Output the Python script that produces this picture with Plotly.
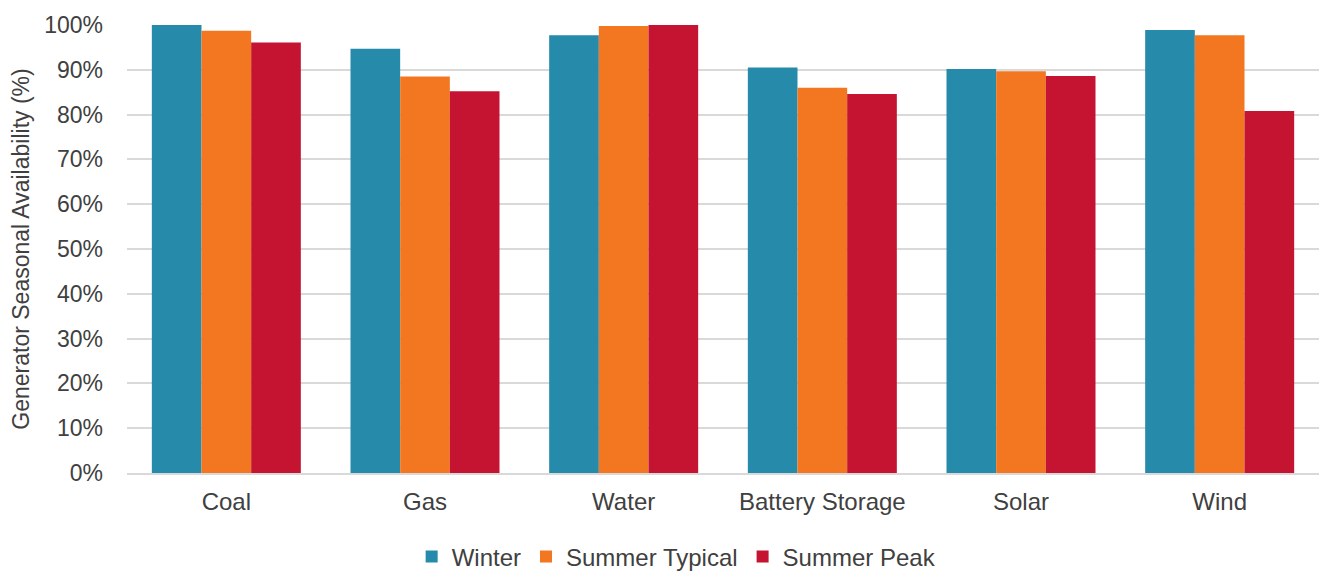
import plotly.graph_objects as go

categories = ["Coal", "Gas", "Water", "Battery Storage", "Solar", "Wind"]
winter = [100.0, 94.7, 97.7, 90.5, 90.2, 98.9]
summer_typical = [98.7, 88.5, 99.8, 86.0, 89.7, 97.7]
summer_peak = [96.1, 85.2, 100.0, 84.6, 88.6, 80.8]

series = [
    ("Winter", winter, "#268aaa"),
    ("Summer Typical", summer_typical, "#f37621"),
    ("Summer Peak", summer_peak, "#c41431"),
]

fig = go.Figure()
for name, vals, color in series:
    fig.add_trace(go.Bar(
        x=categories, y=[v / 100 for v in vals], name=name,
        marker=dict(color=color, line=dict(width=0)),
    ))

font_family = "Liberation Sans, Arial, sans-serif"
text_color = "#404040"
fig.update_layout(
    width=1319, height=571,
    margin=dict(l=127, r=0, t=25, b=98, autoexpand=False),
    paper_bgcolor="white", plot_bgcolor="white",
    barmode="group", bargap=0.25, bargroupgap=0,
    font=dict(family=font_family, size=24, color=text_color),
    xaxis=dict(
        showline=True, linecolor="#d9d9d9", linewidth=2,
        ticks="", ticklabelstandoff=6,
        tickfont=dict(size=24, color=text_color),
    ),
    yaxis=dict(
        range=[0, 1.0], dtick=0.1, tickformat=".0%",
        showgrid=True, gridcolor="#d9d9d9", gridwidth=2,
        zeroline=False, ticks="", ticklabelstandoff=23,
        tickfont=dict(size=23, color=text_color),
        title=dict(text="Generator Seasonal Availability (%)",
                   font=dict(size=23, color=text_color), standoff=8),
    ),
    legend=dict(
        orientation="h", xref="container", x=0.513, xanchor="center",
        yref="container", y=0.0245, yanchor="middle",
        font=dict(size=24, color=text_color), itemwidth=30,
        traceorder="normal",
    ),
)

fig.write_html("out.html")
